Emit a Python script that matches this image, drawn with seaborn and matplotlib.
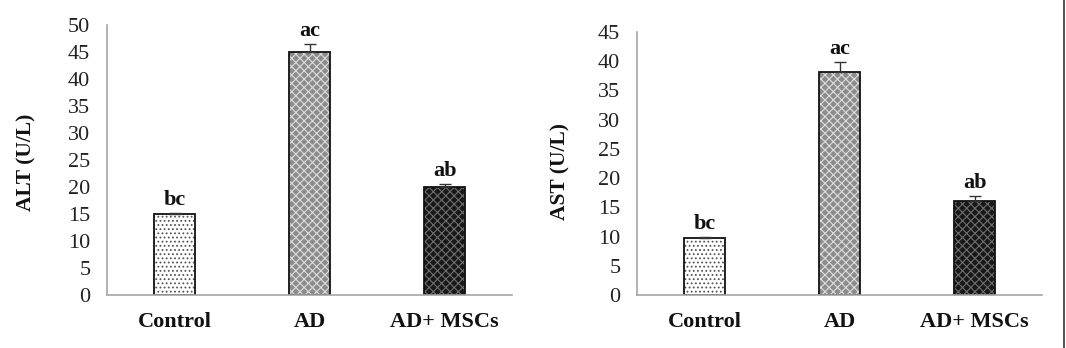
import matplotlib
matplotlib.use("Agg")
import matplotlib.pyplot as plt
from matplotlib.colors import to_rgba
from matplotlib.lines import Line2D
import seaborn as sns
import pandas as pd

# Group labels and measured enzyme activities (mean, SE)
groups = ["Control", "AD", "AD+ MSCs"]
alt_mean = [15.0, 45.0, 20.0]
alt_se = [0.2, 1.5, 0.6]
ast_mean = [9.8, 38.2, 16.1]
ast_se = [0.2, 1.7, 0.9]
sig_letters = ["bc", "ac", "ab"]

bar_faces = ["#ffffff", "#8c8c8c", "#181818"]
bar_hatches = ["....", "xxxx", "xxxx"]
hatch_colors = ["#555555", "#dedede", "#6e6e6e"]

sns.set_theme(style="white")
plt.rcParams["font.family"] = ["Liberation Serif", "DejaVu Serif"]
plt.rcParams["hatch.linewidth"] = 0.8

fig = plt.figure(figsize=(10.66, 3.48), dpi=100)
ax1 = fig.add_axes([0.1004, 0.1523, 0.3799, 0.7759])
ax2 = fig.add_axes([0.5976, 0.1523, 0.3799, 0.7557])


def draw_panel(ax, means, errs, ylabel, ymax, ystep, label_xy):
    df = pd.DataFrame({"group": groups, "value": means})
    sns.barplot(data=df, x="group", y="value", hue="group",
                palette=bar_faces, legend=False, width=0.31,
                edgecolor="#111111", linewidth=1.3, errorbar=None, ax=ax)
    xs, tops = [], []
    for patch, h, hc in zip(ax.patches, bar_hatches, hatch_colors):
        patch.set_hatch(h)
        patch._hatch_color = to_rgba(hc)
        xs.append(patch.get_x() + patch.get_width() / 2)
        tops.append(patch.get_height())
    ax.errorbar(xs, tops, yerr=[[0] * len(errs), errs], fmt="none",
                ecolor="#333333", elinewidth=1.0, capsize=4, capthick=1.0)
    for x, t, e, lab in zip(xs, tops, errs, sig_letters):
        ax.annotate(lab, (x, t + e), xytext=(0, 2), textcoords="offset points",
                    ha="center", va="bottom", fontsize=16, fontweight="bold",
                    color="#111111")
    ax.set_xlim(-0.5, 2.5)
    ax.set_ylim(0, ymax)
    ax.set_yticks(range(0, ymax + 1, ystep))
    ax.set_xlabel("")
    ax.set_ylabel(ylabel, fontsize=15.5, fontweight="bold", color="#111111")
    ax.yaxis.set_label_coords(*label_xy)
    ax.tick_params(axis="both", length=0, colors="#222222")
    ax.tick_params(axis="y", labelsize=16, pad=12)
    ax.tick_params(axis="x", labelsize=16, pad=12)
    for lbl in ax.get_xticklabels():
        lbl.set_fontweight("bold")
        lbl.set_color("#111111")
    for side in ["top", "right"]:
        ax.spines[side].set_visible(False)
    for side in ["left", "bottom"]:
        ax.spines[side].set_color("#a6a6a6")
        ax.spines[side].set_linewidth(1.2)


draw_panel(ax1, alt_mean, alt_se, "ALT (U/L)", 50, 5, (-0.173, 0.49))
draw_panel(ax2, ast_mean, ast_se, "AST (U/L)", 45, 5, (-0.165, 0.47))

# thin frame line on the right edge
fig.add_artist(Line2D([0.9985, 0.9985], [0.0, 1.0], transform=fig.transFigure,
                      color="#333333", linewidth=1.2))

fig.savefig("out.png", dpi=100, facecolor="white")
